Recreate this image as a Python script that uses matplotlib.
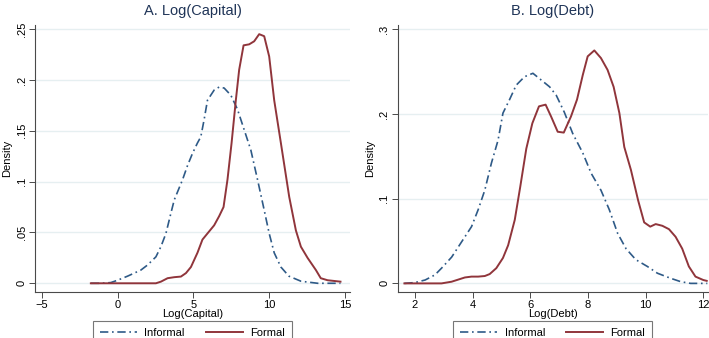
import matplotlib
matplotlib.use("Agg")
import matplotlib.pyplot as plt
from matplotlib.ticker import FuncFormatter

# Panel A: Log(Capital) kernel densities
cap_inf_x = [-1.76, -1.1, -0.44, 0.0, 0.66, 1.54, 1.98, 2.53, 2.86, 3.19, 3.52, 3.74, 3.96,
             4.29, 4.62, 4.95, 5.27, 5.49, 5.71, 5.93, 6.37, 6.70, 7.03, 7.47, 7.91, 8.35,
             8.79, 9.23, 9.67, 10.0, 10.33, 10.77, 11.3, 12.1, 13.2, 14.7]
cap_inf_y = [0.0, 0.0, 0.0007, 0.003, 0.007, 0.013, 0.018, 0.026, 0.036, 0.049, 0.069, 0.082,
             0.090, 0.102, 0.116, 0.128, 0.138, 0.144, 0.161, 0.180, 0.190, 0.193, 0.192,
             0.185, 0.171, 0.151, 0.131, 0.102, 0.072, 0.049, 0.030, 0.016, 0.007, 0.002,
             0.0, 0.0]
cap_for_x = [-1.76, 0.0, 2.53, 2.86, 3.30, 3.74, 4.18, 4.51, 4.84, 5.27, 5.6, 5.93, 6.37,
             6.70, 6.99, 7.25, 7.52, 7.80, 8.02, 8.31, 8.68, 9.01, 9.34, 9.67, 10.0, 10.33,
             10.77, 11.32, 11.76, 12.09, 12.53, 13.08, 13.4, 13.85, 14.7]
cap_for_y = [0.0, 0.0, 0.0, 0.0016, 0.005, 0.006, 0.0066, 0.010, 0.016, 0.030, 0.043, 0.049,
             0.057, 0.066, 0.075, 0.102, 0.138, 0.180, 0.210, 0.234, 0.235, 0.238, 0.245,
             0.243, 0.223, 0.180, 0.138, 0.085, 0.052, 0.036, 0.025, 0.013, 0.005, 0.003,
             0.0016]

# Panel B: Log(Debt)
debt_inf_x = [1.63, 2.0, 2.35, 2.69, 2.92, 3.27, 3.50, 3.73, 3.96, 4.19, 4.42, 4.65, 4.88,
              5.05, 5.28, 5.51, 5.80, 6.09, 6.38, 6.67, 6.90, 7.18, 7.47, 7.82, 8.11, 8.45,
              8.74, 9.03, 9.32, 9.66, 10.06, 10.41, 10.87, 11.22, 11.56, 12.14]
debt_inf_y = [0.0, 0.001, 0.004, 0.010, 0.018, 0.031, 0.043, 0.055, 0.067, 0.087, 0.110,
              0.142, 0.169, 0.201, 0.217, 0.234, 0.244, 0.248, 0.240, 0.232, 0.222, 0.202,
              0.177, 0.154, 0.130, 0.110, 0.087, 0.059, 0.041, 0.028, 0.020, 0.012, 0.006,
              0.002, 0.0, 0.0]
debt_for_x = [1.63, 2.92, 3.27, 3.73, 3.96, 4.19, 4.42, 4.59, 4.82, 5.05, 5.23, 5.46, 5.65,
              5.86, 6.07, 6.30, 6.53, 6.72, 6.95, 7.16, 7.41, 7.62, 7.82, 7.99, 8.22, 8.45,
              8.68, 8.89, 9.09, 9.26, 9.49, 9.74, 9.95, 10.16, 10.35, 10.58, 10.81, 11.04,
              11.27, 11.50, 11.73, 12.0, 12.12]
debt_for_y = [0.0, 0.0, 0.002, 0.007, 0.008, 0.008, 0.0087, 0.011, 0.018, 0.030, 0.045,
              0.075, 0.114, 0.159, 0.189, 0.209, 0.211, 0.197, 0.179, 0.178, 0.197, 0.217,
              0.246, 0.268, 0.275, 0.266, 0.252, 0.232, 0.201, 0.161, 0.134, 0.098, 0.072,
              0.067, 0.070, 0.068, 0.064, 0.055, 0.041, 0.020, 0.008, 0.004, 0.003]

cap_xticks = [-5, 0, 5, 10, 15]
cap_yticks = [0, 0.05, 0.1, 0.15, 0.2, 0.25]
debt_xticks = [2, 4, 6, 8, 10, 12]
debt_yticks = [0, 0.1, 0.2, 0.3]

NAVY = "#2e5a87"
MAROON = "#90353b"
GRID = "#e6eff1"
AXIS = "#4a4a4a"
TITLE = "#1f3457"
DASHDOT = (0, (5, 2.2, 1, 2.2))

plt.rcParams["font.family"] = ["Liberation Sans", "DejaVu Sans"]


def stata_num(v, _pos=None):
    # Stata style: ".05" instead of "0.05"
    if v == 0:
        return "0"
    s = f"{v:g}"
    return s[1:] if s.startswith("0.") else s


def panel(ax, title, xlabel, inf, form, xticks, yticks, xlim, ylim):
    ax.plot(*inf, color=NAVY, lw=1.2, ls=DASHDOT, label="Informal")
    ax.plot(*form, color=MAROON, lw=1.4, label="Formal")
    ax.set_xlim(*xlim)
    ax.set_ylim(*ylim)
    ax.set_xticks(xticks)
    ax.set_yticks(yticks)
    ax.yaxis.set_major_formatter(FuncFormatter(stata_num))
    ax.grid(axis="y", color=GRID, lw=1.0)
    ax.set_axisbelow(True)
    for side in ("top", "right"):
        ax.spines[side].set_visible(False)
    for side in ("left", "bottom"):
        ax.spines[side].set_color(AXIS)
        ax.spines[side].set_linewidth(0.8)
    ax.tick_params(axis="both", labelsize=8, length=4, width=0.7, color=AXIS, pad=2)
    for lab in ax.get_yticklabels():
        lab.set_rotation(90)
        lab.set_va("center")
    ax.set_title(title, fontsize=10.5, color=TITLE, pad=7)
    ax.set_xlabel(xlabel, fontsize=8, labelpad=-1)
    ax.set_ylabel("Density", fontsize=8, labelpad=3)
    # legend box sits below the axis and runs off the bottom edge, as in the original
    leg = ax.legend(loc="upper center", bbox_to_anchor=(0.5, -0.108), ncol=2,
                    fontsize=8, frameon=True, fancybox=False, handlelength=3.3,
                    columnspacing=1.9, handletextpad=0.7, borderpad=0.65,
                    borderaxespad=0)
    leg.get_frame().set_edgecolor("#555555")
    leg.get_frame().set_linewidth(0.8)


fig = plt.figure(figsize=(7.09, 3.38), dpi=100)
ax1 = fig.add_axes([0.0494, 0.136, 0.4443, 0.790])
ax2 = fig.add_axes([0.561, 0.136, 0.437, 0.790])

panel(ax1, "A. Log(Capital)", "Log(Capital)", (cap_inf_x, cap_inf_y),
      (cap_for_x, cap_for_y), cap_xticks, cap_yticks, (-5.44, 15.33), (-0.0086, 0.254))
panel(ax2, "B. Log(Debt)", "Log(Debt)", (debt_inf_x, debt_inf_y),
      (debt_for_x, debt_for_y), debt_xticks, debt_yticks, (1.4, 12.15), (-0.0102, 0.305))

fig.savefig("out.png", dpi=100)
